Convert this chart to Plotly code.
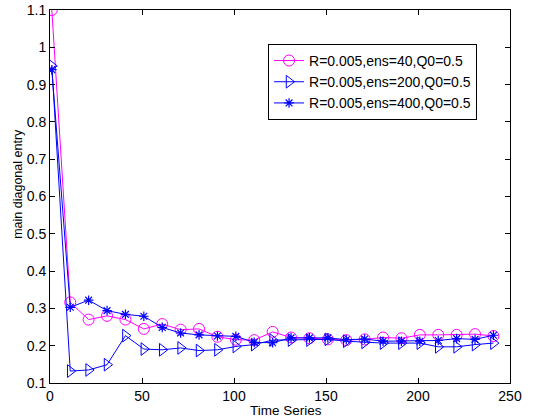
import plotly.graph_objects as go

x_vals = [1, 11, 21, 31, 41, 51, 61, 71, 81, 91, 101, 111, 121, 131, 141, 151, 161, 171, 181, 191, 201, 211, 221, 231, 241]
ens40 = [1.10, 0.316, 0.270, 0.280, 0.270, 0.245, 0.258, 0.243, 0.245, 0.224, 0.216, 0.215, 0.237, 0.222, 0.220, 0.217,
         0.215, 0.217, 0.222, 0.220, 0.229, 0.229, 0.229, 0.231, 0.226]
ens200 = [0.95, 0.132, 0.135, 0.149, 0.227, 0.191, 0.189, 0.194, 0.187, 0.189, 0.198, 0.203, 0.215, 0.215, 0.215, 0.217,
          0.212, 0.209, 0.207, 0.207, 0.207, 0.197, 0.197, 0.203, 0.207]
ens400 = [0.94, 0.303, 0.322, 0.294, 0.284, 0.279, 0.249, 0.234, 0.229, 0.226, 0.225, 0.209, 0.208, 0.221, 0.221, 0.221,
          0.216, 0.218, 0.212, 0.212, 0.212, 0.214, 0.219, 0.217, 0.228]
names = ["R=0.005,ens=40,Q0=0.5", "R=0.005,ens=200,Q0=0.5", "R=0.005,ens=400,Q0=0.5"]
x_ticks = [0, 50, 100, 150, 200, 250]
y_ticks = [0.1, 0.2, 0.3, 0.4, 0.5, 0.6, 0.7, 0.8, 0.9, 1.0, 1.1]
y_tick_text = ["0.1", "0.2", "0.3", "0.4", "0.5", "0.6", "0.7", "0.8", "0.9", "1", "1.1"]
x_title = "Time Series"
y_title = "main diagonal entry"

fig = go.Figure()
fig.add_trace(go.Scatter(x=x_vals, y=ens40, name=names[0], mode="lines+markers",
                         line=dict(color="#FF00FF", width=1),
                         marker=dict(symbol="circle-open", size=11, color="#FF00FF", line=dict(width=1))))
fig.add_trace(go.Scatter(x=x_vals, y=ens200, name=names[1], mode="lines+markers",
                         line=dict(color="#0000FF", width=1),
                         marker=dict(symbol="triangle-right-open", size=11, color="#0000FF", line=dict(width=1))))
fig.add_trace(go.Scatter(x=x_vals, y=ens400, name=names[2], mode="lines+markers",
                         line=dict(color="#0000FF", width=1),
                         marker=dict(symbol="asterisk-open", size=8, color="#0000FF", line=dict(width=1.2))))

fam = "Liberation Sans, Arial, sans-serif"
fig.update_layout(
    width=534, height=419,
    margin=dict(l=50, r=24, t=10, b=36, autoexpand=False),
    paper_bgcolor="white", plot_bgcolor="white",
    font=dict(family=fam, size=14, color="black"),
    showlegend=True,
    legend=dict(x=0.474, y=0.909, xanchor="left", yanchor="top",
                bordercolor="black", borderwidth=1, bgcolor="white",
                font=dict(family=fam, size=14, color="black"),
                tracegroupgap=0),
    xaxis=dict(range=[0, 250], tickvals=x_ticks, ticks="inside", ticklen=5, tickcolor="black",
               showline=True, linecolor="black", linewidth=1, mirror="ticks", showgrid=False, zeroline=False,
               automargin=False, tickfont=dict(size=14)),
    yaxis=dict(range=[0.1, 1.1], tickvals=y_ticks, ticktext=y_tick_text, ticks="inside", ticklen=5, tickcolor="black",
               showline=True, linecolor="black", linewidth=1, mirror="ticks", showgrid=False, zeroline=False,
               automargin=False, tickfont=dict(size=14)),
    annotations=[
        dict(text=x_title, xref="paper", yref="paper", x=0.514, y=-0.075, xanchor="center", yanchor="middle",
             showarrow=False, font=dict(family=fam, size=13.5, color="black")),
        dict(text=y_title, xref="paper", yref="paper", x=-0.0696, y=0.534, xanchor="center", yanchor="middle",
             textangle=-90, showarrow=False, font=dict(family=fam, size=12.5, color="black")),
    ],
)
fig.write_html("out.html", config={"displayModeBar": False},
               post_script="document.body.style.margin='0px';")
